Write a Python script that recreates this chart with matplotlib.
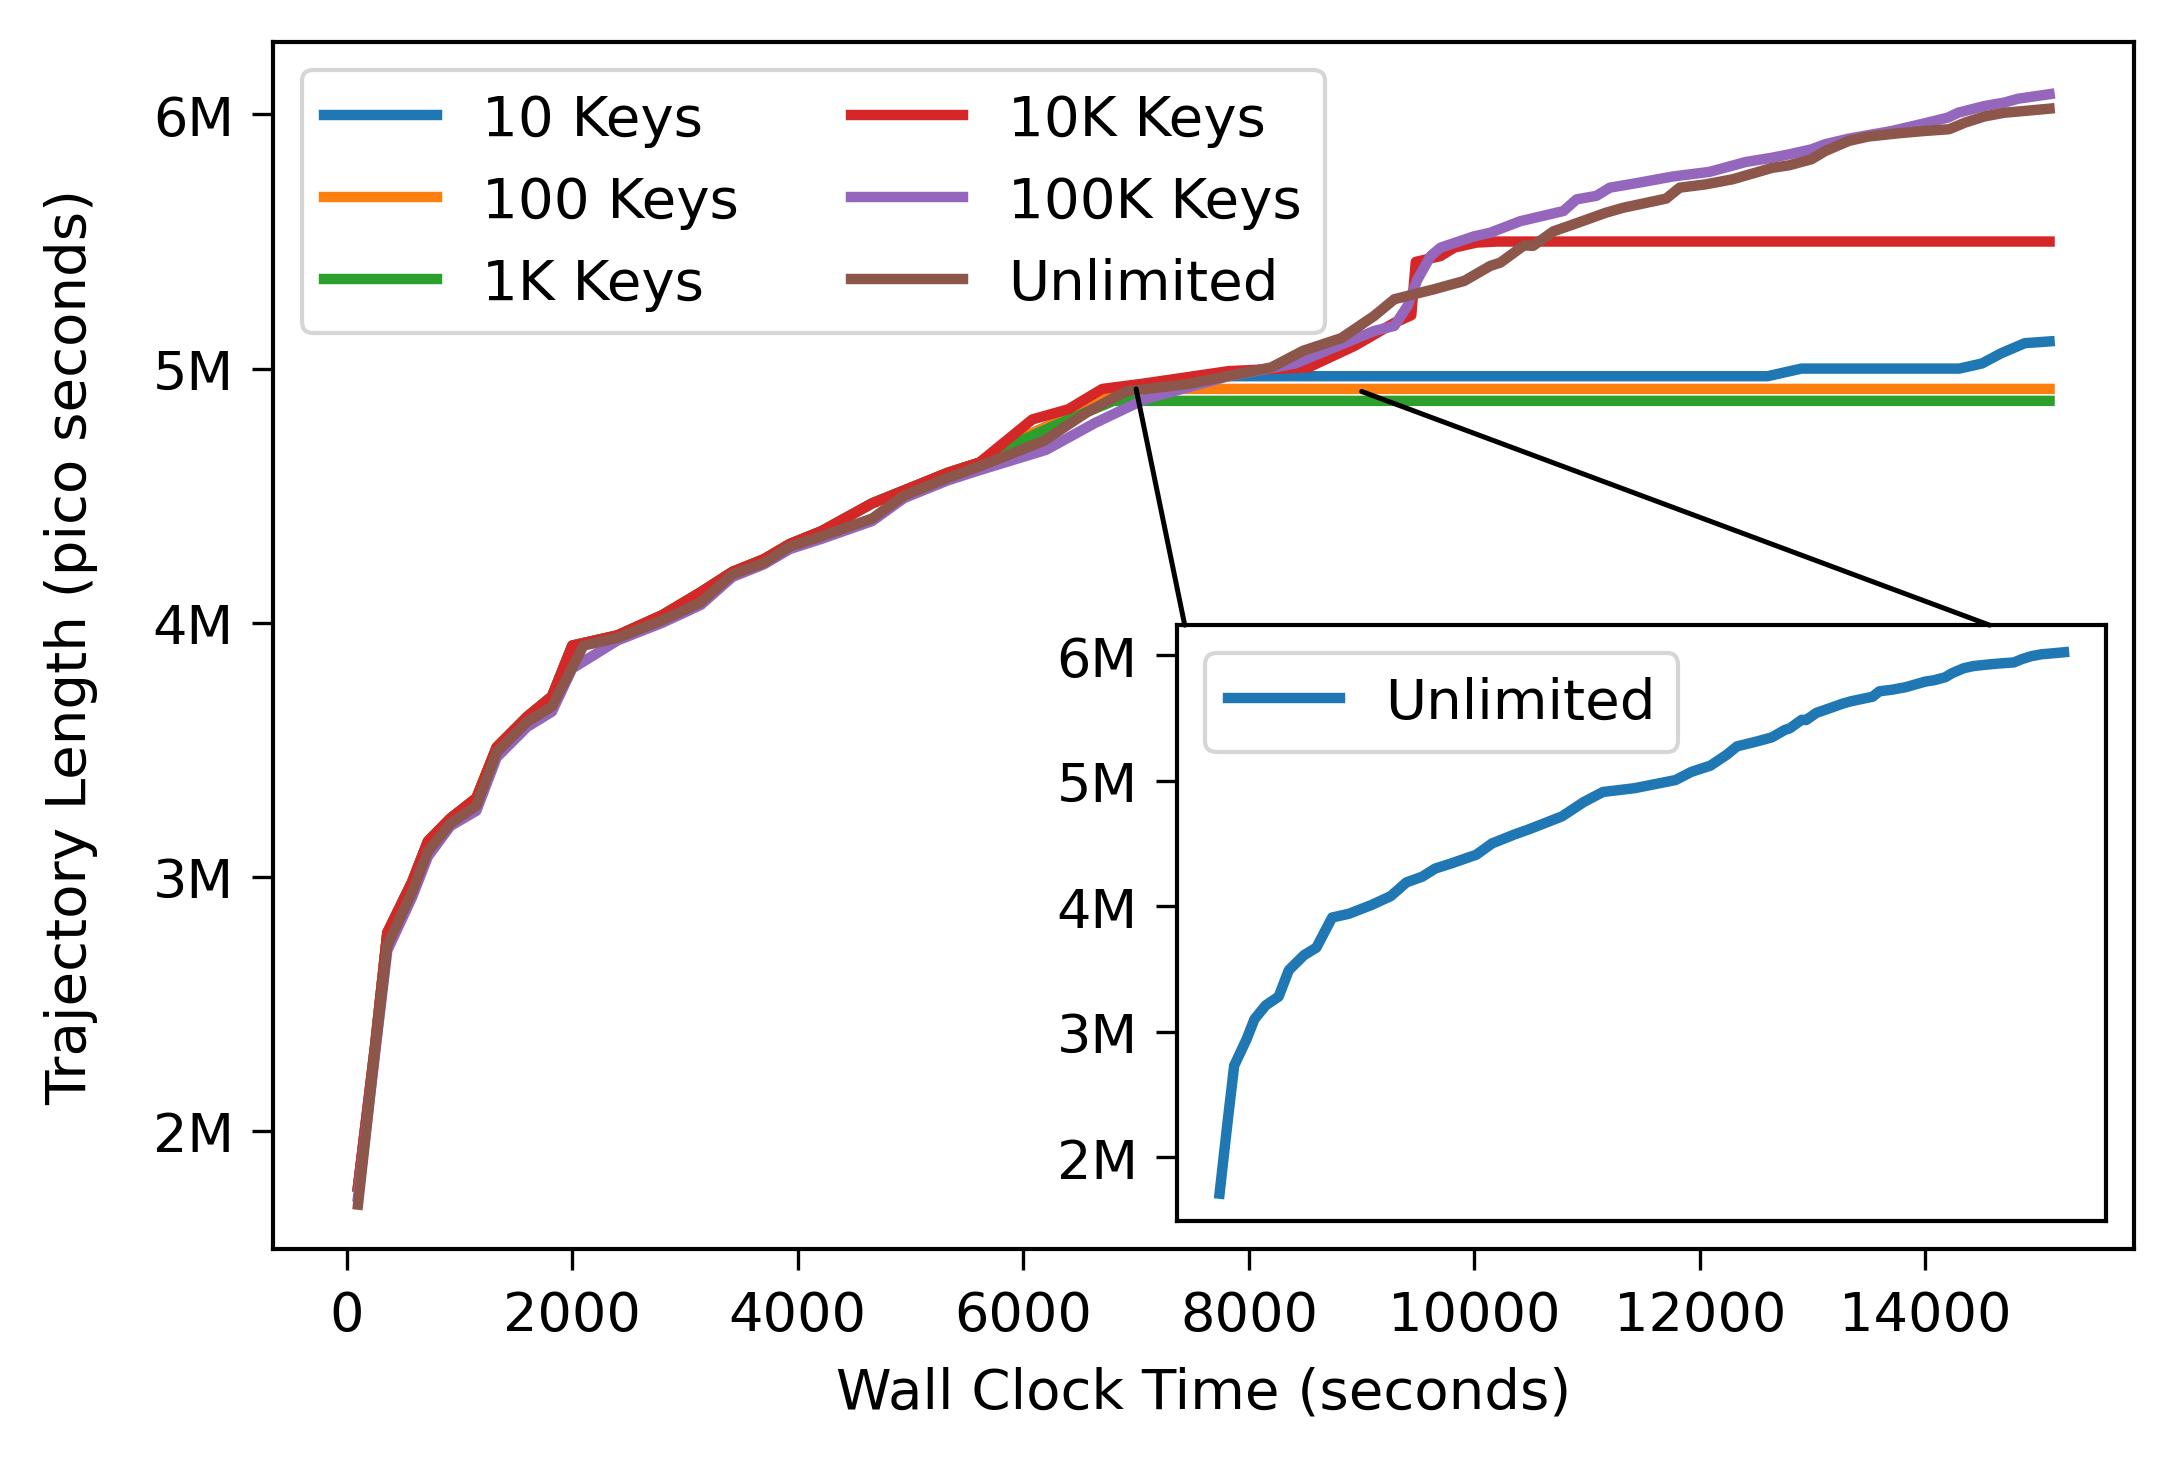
import matplotlib
matplotlib.use("Agg")
import matplotlib.pyplot as plt
import matplotlib.ticker as ticker
from matplotlib.patches import ConnectionPatch

# tempo (s) e comprimento da trajetoria (milhoes de ps)
t_early = [100, 250, 360, 580, 720, 920, 1150, 1330, 1600, 1820, 2000, 2400, 2800,
           3140, 3420, 3700, 3930, 4210, 4660, 4940, 5330, 5610]
keyed_early = [1.78, 2.33, 2.78, 2.98, 3.14, 3.23, 3.31, 3.51, 3.63, 3.71, 3.91, 3.95,
               4.03, 4.12, 4.20, 4.25, 4.31, 4.36, 4.47, 4.52, 4.59, 4.63]
purple_early = [1.74, 2.30, 2.71, 2.92, 3.08, 3.20, 3.26, 3.47, 3.59, 3.65, 3.82, 3.93,
                4.00, 4.07, 4.18, 4.23, 4.29, 4.33, 4.40, 4.49, 4.56, 4.60]

k10_t = [6000, 6300, 6700, 7200, 7800, 12600, 12900, 14300, 14500, 14670, 14880, 15100]
k10_v = [4.73, 4.79, 4.90, 4.93, 4.97, 4.97, 5.00, 5.00, 5.02, 5.06, 5.10, 5.107]

k100_t = [6000, 6300, 6700, 7000, 15100]
k100_v = [4.73, 4.79, 4.88, 4.92, 4.92]

k1k_t = [6000, 6300, 6800, 15100]
k1k_v = [4.72, 4.78, 4.873, 4.873]

k10k_t = [6080, 6400, 6700, 7050, 7820, 8530, 8940, 9290, 9440, 9480, 9700, 9820,
          10020, 10200, 15100]
k10k_v = [4.80, 4.84, 4.92, 4.94, 4.99, 5.005, 5.09, 5.18, 5.21, 5.42, 5.443, 5.476,
          5.496, 5.50, 5.50]

k100k_t = [6200, 6640, 7080, 7820, 8410, 9110, 9290, 9406, 9494, 9612, 9700, 9994,
           10142, 10406, 10789, 10906, 11083, 11201, 11465, 11759, 12083, 12406, 12640,
           12790, 12990, 13110, 13320, 13700, 13990, 14200, 14290, 14520, 14700, 14820,
           15100]
k100k_v = [4.68, 4.787, 4.88, 4.97, 5.02, 5.148, 5.168, 5.246, 5.35, 5.443, 5.476, 5.52,
           5.535, 5.58, 5.62, 5.666, 5.68, 5.712, 5.732, 5.756, 5.774, 5.813, 5.83,
           5.843, 5.863, 5.883, 5.905, 5.935, 5.965, 5.988, 6.007, 6.033, 6.047, 6.062,
           6.08]

unl_t = [100, 250, 360, 580, 720, 920, 1150, 1330, 1600, 1820, 2100, 2400, 2800, 3140,
         3420, 3700, 3930, 4210, 4660, 4940, 5330, 5610, 6180, 6570, 6910, 7470, 7920,
         8200, 8480, 8820, 9110, 9290, 9640, 9910, 10140, 10230, 10440, 10520, 10700,
         10880, 11170, 11320, 11700, 11820, 12050, 12290, 12640, 12790, 12990, 13110,
         13320, 13490, 13760, 13990, 14210, 14350, 14520, 14700, 14880, 15100]
unl_v = [1.71, 2.31, 2.73, 2.94, 3.10, 3.21, 3.28, 3.49, 3.61, 3.67, 3.91, 3.94, 4.01,
         4.08, 4.19, 4.235, 4.30, 4.34, 4.41, 4.50, 4.57, 4.615, 4.715, 4.83, 4.91, 4.94,
         4.98, 5.005, 5.07, 5.12, 5.207, 5.273, 5.312, 5.345, 5.404, 5.417, 5.485, 5.483,
         5.54, 5.568, 5.614, 5.633, 5.669, 5.712, 5.725, 5.745, 5.79, 5.80, 5.824, 5.856,
         5.896, 5.913, 5.926, 5.935, 5.942, 5.968, 5.992, 6.007, 6.014, 6.023]

series = [
    ('10 Keys', t_early + k10_t, keyed_early + k10_v),
    ('100 Keys', t_early + k100_t, keyed_early + k100_v),
    ('1K Keys', t_early + k1k_t, keyed_early + k1k_v),
    ('10K Keys', t_early + k10k_t, keyed_early + k10k_v),
    ('100K Keys', t_early + k100k_t, purple_early + k100k_v),
    ('Unlimited', unl_t, unl_v),
]

plt.rcParams['font.size'] = 13.5
plt.rcParams['axes.linewidth'] = 1.0

fig = plt.figure(figsize=(2177 / 300, 1460 / 300), dpi=300)
ax = fig.add_axes([0.1256, 0.1438, 0.8547, 0.8267])

for label, t, v in series:
    ax.plot(t, v, lw=2.5, label=label)

ax.set_ylim(1.535, 6.285)
ax.yaxis.set_major_locator(ticker.MultipleLocator(1))
ax.yaxis.set_major_formatter(ticker.FuncFormatter(lambda v, p: '%dM' % round(v)))
ax.tick_params(labelsize=13, length=5, pad=4.5)
ax.set_xlabel('Wall Clock Time (seconds)', fontsize=13.5, labelpad=6)
ax.set_ylabel('Trajectory Length (pico seconds)', fontsize=13.5, labelpad=13)
ax.legend(loc='upper left', ncol=2, fontsize=13.5)

# grafico interno so com o Unlimited
ins = fig.add_axes([0.5408, 0.1632, 0.4267, 0.4079])
ins.plot(unl_t, unl_v, lw=2.5, color='C0', label='Unlimited')
ins.set_xticks([])
ins.yaxis.set_major_locator(ticker.MultipleLocator(1))
ins.yaxis.set_major_formatter(ticker.FuncFormatter(lambda v, p: '%dM' % round(v)))
ins.tick_params(labelsize=13, length=5, pad=4.5)
ins.legend(loc='upper left', fontsize=13.5)

for xy, xf in [((7000, 4.92), 0.008), ((9000, 4.91), 0.8745)]:
    con = ConnectionPatch(xyA=xy, coordsA=ax.transData, xyB=(xf, 1.0),
                          coordsB=ins.transAxes, color='black', lw=1.2)
    fig.add_artist(con)

fig.savefig('out.png', dpi=300)
